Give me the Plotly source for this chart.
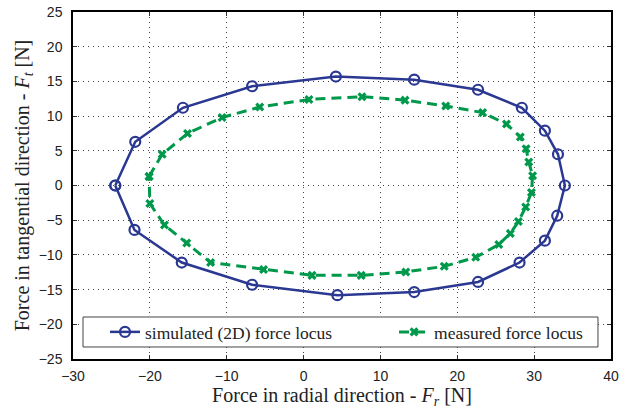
import plotly.graph_objects as go

# simulated (2D) force locus
sim_fr = [-24.5, -21.9, -15.7, -6.7, 4.2, 14.4, 22.7, 28.4, 31.4, 33.1, 34.0,
          33.0, 31.4, 28.1, 22.7, 14.4, 4.4, -6.7, -15.85, -22.0, -24.5]
sim_ft = [0.0, 6.3, 11.2, 14.3, 15.7, 15.25, 13.8, 11.2, 7.9, 4.5, 0.0,
          -4.35, -7.95, -11.1, -13.9, -15.35, -15.8, -14.3, -11.1, -6.4, 0.0]

# measured force locus
meas_fr = [-20.1, -18.4, -15.1, -10.6, -5.7, 0.7, 7.6, 13.2, 18.5, 23.3, 26.4,
           28.2, 28.95, 29.3, 29.8, 29.65, 28.9, 27.95, 26.9, 25.4, 22.4, 18.3,
           13.3, 7.5, 1.1, -5.2, -12.1, -15.2, -18.1, -20.0, -20.1]
meas_ft = [1.3, 4.5, 7.5, 9.8, 11.3, 12.4, 12.8, 12.3, 11.45, 10.5, 8.85,
           7.0, 5.3, 3.4, 1.4, -1.0, -3.1, -5.2, -6.9, -8.5, -10.35, -11.65,
           -12.45, -12.95, -12.95, -12.1, -11.1, -8.3, -5.7, -2.6, 1.3]

x_ticks = [-30, -20, -10, 0, 10, 20, 30, 40]
y_ticks = [-25, -20, -15, -10, -5, 0, 5, 10, 15, 20, 25]

BLUE = "#2B3892"
GREEN = "#00984A"

fig = go.Figure()
fig.add_trace(go.Scatter(
    x=sim_fr, y=sim_ft, mode="lines+markers",
    name="simulated (2D) force locus", legend="legend",
    line=dict(color=BLUE, width=2.5),
    marker=dict(symbol="circle-open", size=10, color=BLUE, line=dict(width=2.2, color=BLUE)),
))
fig.add_trace(go.Scatter(
    x=meas_fr, y=meas_ft, mode="lines+markers",
    name="measured force locus", legend="legend2",
    line=dict(color=GREEN, width=3, dash="10px,6px"),
    marker=dict(symbol="x", size=8, color=GREEN),
))

axis_common = dict(
    showline=True, linecolor="black", linewidth=1.5, mirror="ticks",
    ticks="inside", ticklen=4, tickcolor="#333",
    showgrid=True, gridcolor="#444", gridwidth=1, griddash="1px,4px",
    zeroline=False, automargin=False,
    tickfont=dict(family="Liberation Sans, Arial", size=14, color="#222"),
    title_font=dict(family="Liberation Serif, Times New Roman", size=20, color="#222"),
)

legend_font = dict(family="Liberation Serif, Times New Roman", size=17.5, color="#222")

fig.update_layout(
    width=625, height=410,
    margin=dict(l=73, r=14, t=12, b=51),
    plot_bgcolor="white", paper_bgcolor="white",
    xaxis=dict(range=[-30, 40], tickvals=x_ticks, ticklabelstandoff=3,
               title=dict(text="Force in radial direction - <i>F</i><sub><i>r</i></sub> [N]", standoff=4),
               **axis_common),
    yaxis=dict(range=[-25, 25], tickvals=y_ticks, ticklabelstandoff=6,
               title=dict(text="Force in tangential direction - <i>F</i><sub><i>t</i></sub> [N]", standoff=4),
               **axis_common),
    legend=dict(
        orientation="h", x=0.0595, y=0.0778, xanchor="left", yanchor="middle",
        bgcolor="rgba(0,0,0,0)", borderwidth=0, font=legend_font,
    ),
    legend2=dict(
        orientation="h", x=0.5967, y=0.0778, xanchor="left", yanchor="middle",
        bgcolor="rgba(0,0,0,0)", borderwidth=0, font=legend_font,
    ),
    shapes=[dict(type="rect", xref="paper", yref="paper",
                 x0=0.0186, x1=0.9758, y0=0.0346, y1=0.121,
                 line=dict(color="#444", width=1), fillcolor="white", layer="above")],
    showlegend=True,
)

fig.write_html("out.html")
